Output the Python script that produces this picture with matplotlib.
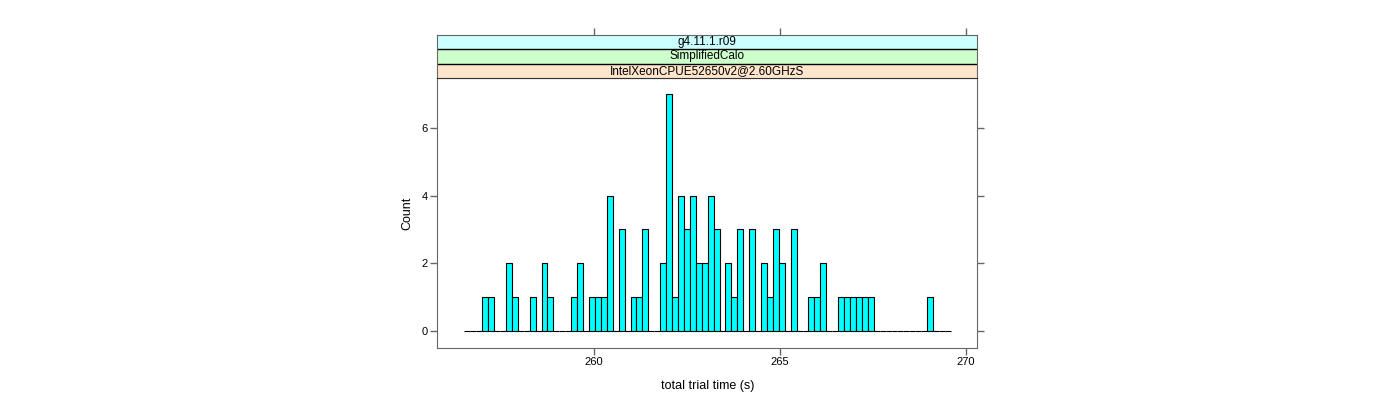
import matplotlib
matplotlib.use("Agg")
import matplotlib.pyplot as plt
from matplotlib.patches import Rectangle

plt.rcParams['font.family'] = ['Liberation Sans', 'DejaVu Sans']

# histogram counts per bin (lattice histogram, 82 breaks)
counts = [0, 0, 0, 1, 1, 0, 0, 2, 1, 0,
          0, 1, 0, 2, 1, 0, 0, 0, 1, 2,
          0, 1, 1, 1, 4, 0, 3, 0, 1, 1,
          3, 0, 0, 2, 7, 1, 4, 3, 4, 2,
          2, 4, 3, 0, 2, 1, 3, 0, 3, 0,
          2, 1, 3, 2, 0, 3, 0, 0, 1, 1,
          2, 0, 0, 1, 1, 1, 1, 1, 1, 0,
          0, 0, 0, 0, 0, 0, 0, 0, 1, 0,
          0, 0]
bin_start = 256.51
bin_width = 0.1595
strips = ['IntelXeonCPUE52650v2@2.60GHzS', 'SimplifiedCalo', 'g4.11.1.r09']
strip_cols = ['#ffe5cc', '#ccffcc', '#ccffff']
xticks = [260, 265, 270]
yticks = [0, 2, 4, 6]

frame = '#666666'
fig = plt.figure(figsize=(14, 4), dpi=100)
ax = fig.add_axes([437.3/1400, 1 - 347.7/400, 540/1400, 269.7/400])
sax = fig.add_axes([437.3/1400, 1 - 78/400, 540/1400, 43/400], sharex=ax)

edges = [bin_start + i*bin_width for i in range(len(counts))]
ax.bar(edges, counts, width=bin_width, align='edge', color='#00ffff',
       edgecolor='black', linewidth=0.8)

ax.set_xlim(255.78, 270.3)
ax.set_ylim(-0.49, 7.47)
ax.set_xticks(xticks)
ax.set_yticks(yticks)
for s in ax.spines.values():
    s.set_color(frame)
ax.tick_params(direction='out', length=5, width=1, color=frame, labelsize=8,
               pad=2, right=True, top=False)
ax.set_xlabel('total trial time (s)', fontsize=9, labelpad=9)
ax.set_ylabel('Count', fontsize=9, labelpad=6)

# strips
sax.set_ylim(0, 3)
for i, (lab, c) in enumerate(zip(strips, strip_cols)):
    sax.add_patch(Rectangle((0, i), 1, 1, transform=sax.get_yaxis_transform(),
                            facecolor=c, edgecolor='none'))
    sax.text(0.5, i + 0.5, lab, transform=sax.get_yaxis_transform(),
             ha='center', va='center', fontsize=8.5)
for y in [1, 2]:
    sax.axhline(y, color='black', linewidth=1)
for s in sax.spines.values():
    s.set_color(frame)
sax.spines['bottom'].set_color('#333333')
sax.set_yticks([])
sax.tick_params(axis='x', direction='out', length=5, width=1, color=frame,
                top=True, bottom=False, labeltop=False, labelbottom=False)

fig.savefig('out.png', dpi=100)
